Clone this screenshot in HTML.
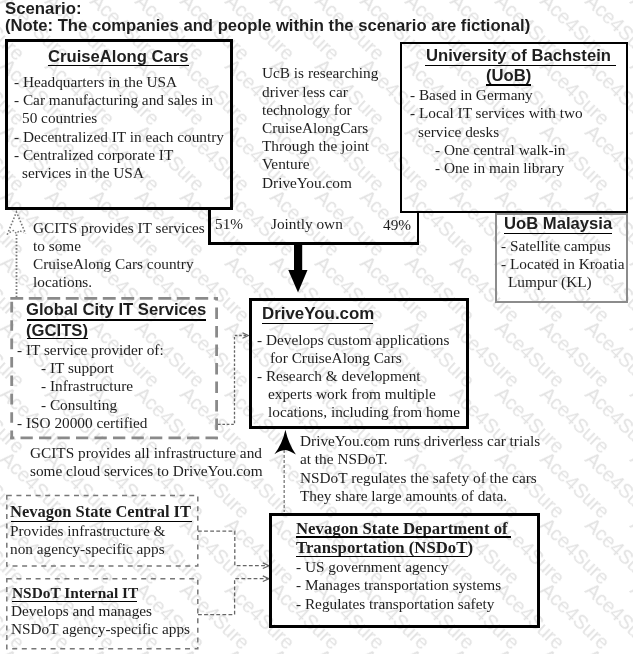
<!DOCTYPE html>
<html><head><meta charset="utf-8"><style>
html,body{margin:0;padding:0;background:#fff;}
body{width:633px;height:654px;position:relative;overflow:hidden;font-family:"Liberation Serif", serif;color:#1e1e1e;}
.t{position:absolute;white-space:pre;will-change:transform;}
.r{position:absolute;}
.wm span{position:absolute;will-change:transform;font-family:'Liberation Sans',sans-serif;font-size:19.6px;line-height:22px;color:#e2e2e2;white-space:pre;transform:translate(-50%,-50%) rotate(43.5deg);}
</style></head><body>
<div class="wm"><span style="left:-55.0px;top:-39.0px">Ace4Sure</span><span style="left:-10.0px;top:-39.0px">Ace4Sure</span><span style="left:35.0px;top:-39.0px">Ace4Sure</span><span style="left:80.0px;top:-39.0px">Ace4Sure</span><span style="left:125.0px;top:-39.0px">Ace4Sure</span><span style="left:170.0px;top:-39.0px">Ace4Sure</span><span style="left:215.0px;top:-39.0px">Ace4Sure</span><span style="left:260.0px;top:-39.0px">Ace4Sure</span><span style="left:305.0px;top:-39.0px">Ace4Sure</span><span style="left:350.0px;top:-39.0px">Ace4Sure</span><span style="left:395.0px;top:-39.0px">Ace4Sure</span><span style="left:440.0px;top:-39.0px">Ace4Sure</span><span style="left:485.0px;top:-39.0px">Ace4Sure</span><span style="left:530.0px;top:-39.0px">Ace4Sure</span><span style="left:575.0px;top:-39.0px">Ace4Sure</span><span style="left:620.0px;top:-39.0px">Ace4Sure</span><span style="left:665.0px;top:-39.0px">Ace4Sure</span><span style="left:-55.0px;top:26.5px">Ace4Sure</span><span style="left:-10.0px;top:26.5px">Ace4Sure</span><span style="left:35.0px;top:26.5px">Ace4Sure</span><span style="left:80.0px;top:26.5px">Ace4Sure</span><span style="left:125.0px;top:26.5px">Ace4Sure</span><span style="left:170.0px;top:26.5px">Ace4Sure</span><span style="left:215.0px;top:26.5px">Ace4Sure</span><span style="left:260.0px;top:26.5px">Ace4Sure</span><span style="left:305.0px;top:26.5px">Ace4Sure</span><span style="left:350.0px;top:26.5px">Ace4Sure</span><span style="left:395.0px;top:26.5px">Ace4Sure</span><span style="left:440.0px;top:26.5px">Ace4Sure</span><span style="left:485.0px;top:26.5px">Ace4Sure</span><span style="left:530.0px;top:26.5px">Ace4Sure</span><span style="left:575.0px;top:26.5px">Ace4Sure</span><span style="left:620.0px;top:26.5px">Ace4Sure</span><span style="left:665.0px;top:26.5px">Ace4Sure</span><span style="left:-55.0px;top:92.0px">Ace4Sure</span><span style="left:-10.0px;top:92.0px">Ace4Sure</span><span style="left:35.0px;top:92.0px">Ace4Sure</span><span style="left:80.0px;top:92.0px">Ace4Sure</span><span style="left:125.0px;top:92.0px">Ace4Sure</span><span style="left:170.0px;top:92.0px">Ace4Sure</span><span style="left:215.0px;top:92.0px">Ace4Sure</span><span style="left:260.0px;top:92.0px">Ace4Sure</span><span style="left:305.0px;top:92.0px">Ace4Sure</span><span style="left:350.0px;top:92.0px">Ace4Sure</span><span style="left:395.0px;top:92.0px">Ace4Sure</span><span style="left:440.0px;top:92.0px">Ace4Sure</span><span style="left:485.0px;top:92.0px">Ace4Sure</span><span style="left:530.0px;top:92.0px">Ace4Sure</span><span style="left:575.0px;top:92.0px">Ace4Sure</span><span style="left:620.0px;top:92.0px">Ace4Sure</span><span style="left:665.0px;top:92.0px">Ace4Sure</span><span style="left:-55.0px;top:157.5px">Ace4Sure</span><span style="left:-10.0px;top:157.5px">Ace4Sure</span><span style="left:35.0px;top:157.5px">Ace4Sure</span><span style="left:80.0px;top:157.5px">Ace4Sure</span><span style="left:125.0px;top:157.5px">Ace4Sure</span><span style="left:170.0px;top:157.5px">Ace4Sure</span><span style="left:215.0px;top:157.5px">Ace4Sure</span><span style="left:260.0px;top:157.5px">Ace4Sure</span><span style="left:305.0px;top:157.5px">Ace4Sure</span><span style="left:350.0px;top:157.5px">Ace4Sure</span><span style="left:395.0px;top:157.5px">Ace4Sure</span><span style="left:440.0px;top:157.5px">Ace4Sure</span><span style="left:485.0px;top:157.5px">Ace4Sure</span><span style="left:530.0px;top:157.5px">Ace4Sure</span><span style="left:575.0px;top:157.5px">Ace4Sure</span><span style="left:620.0px;top:157.5px">Ace4Sure</span><span style="left:665.0px;top:157.5px">Ace4Sure</span><span style="left:-55.0px;top:223.0px">Ace4Sure</span><span style="left:-10.0px;top:223.0px">Ace4Sure</span><span style="left:35.0px;top:223.0px">Ace4Sure</span><span style="left:80.0px;top:223.0px">Ace4Sure</span><span style="left:125.0px;top:223.0px">Ace4Sure</span><span style="left:170.0px;top:223.0px">Ace4Sure</span><span style="left:215.0px;top:223.0px">Ace4Sure</span><span style="left:260.0px;top:223.0px">Ace4Sure</span><span style="left:305.0px;top:223.0px">Ace4Sure</span><span style="left:350.0px;top:223.0px">Ace4Sure</span><span style="left:395.0px;top:223.0px">Ace4Sure</span><span style="left:440.0px;top:223.0px">Ace4Sure</span><span style="left:485.0px;top:223.0px">Ace4Sure</span><span style="left:530.0px;top:223.0px">Ace4Sure</span><span style="left:575.0px;top:223.0px">Ace4Sure</span><span style="left:620.0px;top:223.0px">Ace4Sure</span><span style="left:665.0px;top:223.0px">Ace4Sure</span><span style="left:-55.0px;top:288.5px">Ace4Sure</span><span style="left:-10.0px;top:288.5px">Ace4Sure</span><span style="left:35.0px;top:288.5px">Ace4Sure</span><span style="left:80.0px;top:288.5px">Ace4Sure</span><span style="left:125.0px;top:288.5px">Ace4Sure</span><span style="left:170.0px;top:288.5px">Ace4Sure</span><span style="left:215.0px;top:288.5px">Ace4Sure</span><span style="left:260.0px;top:288.5px">Ace4Sure</span><span style="left:305.0px;top:288.5px">Ace4Sure</span><span style="left:350.0px;top:288.5px">Ace4Sure</span><span style="left:395.0px;top:288.5px">Ace4Sure</span><span style="left:440.0px;top:288.5px">Ace4Sure</span><span style="left:485.0px;top:288.5px">Ace4Sure</span><span style="left:530.0px;top:288.5px">Ace4Sure</span><span style="left:575.0px;top:288.5px">Ace4Sure</span><span style="left:620.0px;top:288.5px">Ace4Sure</span><span style="left:665.0px;top:288.5px">Ace4Sure</span><span style="left:-55.0px;top:354.0px">Ace4Sure</span><span style="left:-10.0px;top:354.0px">Ace4Sure</span><span style="left:35.0px;top:354.0px">Ace4Sure</span><span style="left:80.0px;top:354.0px">Ace4Sure</span><span style="left:125.0px;top:354.0px">Ace4Sure</span><span style="left:170.0px;top:354.0px">Ace4Sure</span><span style="left:215.0px;top:354.0px">Ace4Sure</span><span style="left:260.0px;top:354.0px">Ace4Sure</span><span style="left:305.0px;top:354.0px">Ace4Sure</span><span style="left:350.0px;top:354.0px">Ace4Sure</span><span style="left:395.0px;top:354.0px">Ace4Sure</span><span style="left:440.0px;top:354.0px">Ace4Sure</span><span style="left:485.0px;top:354.0px">Ace4Sure</span><span style="left:530.0px;top:354.0px">Ace4Sure</span><span style="left:575.0px;top:354.0px">Ace4Sure</span><span style="left:620.0px;top:354.0px">Ace4Sure</span><span style="left:665.0px;top:354.0px">Ace4Sure</span><span style="left:-55.0px;top:419.5px">Ace4Sure</span><span style="left:-10.0px;top:419.5px">Ace4Sure</span><span style="left:35.0px;top:419.5px">Ace4Sure</span><span style="left:80.0px;top:419.5px">Ace4Sure</span><span style="left:125.0px;top:419.5px">Ace4Sure</span><span style="left:170.0px;top:419.5px">Ace4Sure</span><span style="left:215.0px;top:419.5px">Ace4Sure</span><span style="left:260.0px;top:419.5px">Ace4Sure</span><span style="left:305.0px;top:419.5px">Ace4Sure</span><span style="left:350.0px;top:419.5px">Ace4Sure</span><span style="left:395.0px;top:419.5px">Ace4Sure</span><span style="left:440.0px;top:419.5px">Ace4Sure</span><span style="left:485.0px;top:419.5px">Ace4Sure</span><span style="left:530.0px;top:419.5px">Ace4Sure</span><span style="left:575.0px;top:419.5px">Ace4Sure</span><span style="left:620.0px;top:419.5px">Ace4Sure</span><span style="left:665.0px;top:419.5px">Ace4Sure</span><span style="left:-55.0px;top:485.0px">Ace4Sure</span><span style="left:-10.0px;top:485.0px">Ace4Sure</span><span style="left:35.0px;top:485.0px">Ace4Sure</span><span style="left:80.0px;top:485.0px">Ace4Sure</span><span style="left:125.0px;top:485.0px">Ace4Sure</span><span style="left:170.0px;top:485.0px">Ace4Sure</span><span style="left:215.0px;top:485.0px">Ace4Sure</span><span style="left:260.0px;top:485.0px">Ace4Sure</span><span style="left:305.0px;top:485.0px">Ace4Sure</span><span style="left:350.0px;top:485.0px">Ace4Sure</span><span style="left:395.0px;top:485.0px">Ace4Sure</span><span style="left:440.0px;top:485.0px">Ace4Sure</span><span style="left:485.0px;top:485.0px">Ace4Sure</span><span style="left:530.0px;top:485.0px">Ace4Sure</span><span style="left:575.0px;top:485.0px">Ace4Sure</span><span style="left:620.0px;top:485.0px">Ace4Sure</span><span style="left:665.0px;top:485.0px">Ace4Sure</span><span style="left:-55.0px;top:550.5px">Ace4Sure</span><span style="left:-10.0px;top:550.5px">Ace4Sure</span><span style="left:35.0px;top:550.5px">Ace4Sure</span><span style="left:80.0px;top:550.5px">Ace4Sure</span><span style="left:125.0px;top:550.5px">Ace4Sure</span><span style="left:170.0px;top:550.5px">Ace4Sure</span><span style="left:215.0px;top:550.5px">Ace4Sure</span><span style="left:260.0px;top:550.5px">Ace4Sure</span><span style="left:305.0px;top:550.5px">Ace4Sure</span><span style="left:350.0px;top:550.5px">Ace4Sure</span><span style="left:395.0px;top:550.5px">Ace4Sure</span><span style="left:440.0px;top:550.5px">Ace4Sure</span><span style="left:485.0px;top:550.5px">Ace4Sure</span><span style="left:530.0px;top:550.5px">Ace4Sure</span><span style="left:575.0px;top:550.5px">Ace4Sure</span><span style="left:620.0px;top:550.5px">Ace4Sure</span><span style="left:665.0px;top:550.5px">Ace4Sure</span><span style="left:-55.0px;top:616.0px">Ace4Sure</span><span style="left:-10.0px;top:616.0px">Ace4Sure</span><span style="left:35.0px;top:616.0px">Ace4Sure</span><span style="left:80.0px;top:616.0px">Ace4Sure</span><span style="left:125.0px;top:616.0px">Ace4Sure</span><span style="left:170.0px;top:616.0px">Ace4Sure</span><span style="left:215.0px;top:616.0px">Ace4Sure</span><span style="left:260.0px;top:616.0px">Ace4Sure</span><span style="left:305.0px;top:616.0px">Ace4Sure</span><span style="left:350.0px;top:616.0px">Ace4Sure</span><span style="left:395.0px;top:616.0px">Ace4Sure</span><span style="left:440.0px;top:616.0px">Ace4Sure</span><span style="left:485.0px;top:616.0px">Ace4Sure</span><span style="left:530.0px;top:616.0px">Ace4Sure</span><span style="left:575.0px;top:616.0px">Ace4Sure</span><span style="left:620.0px;top:616.0px">Ace4Sure</span><span style="left:665.0px;top:616.0px">Ace4Sure</span><span style="left:-55.0px;top:681.5px">Ace4Sure</span><span style="left:-10.0px;top:681.5px">Ace4Sure</span><span style="left:35.0px;top:681.5px">Ace4Sure</span><span style="left:80.0px;top:681.5px">Ace4Sure</span><span style="left:125.0px;top:681.5px">Ace4Sure</span><span style="left:170.0px;top:681.5px">Ace4Sure</span><span style="left:215.0px;top:681.5px">Ace4Sure</span><span style="left:260.0px;top:681.5px">Ace4Sure</span><span style="left:305.0px;top:681.5px">Ace4Sure</span><span style="left:350.0px;top:681.5px">Ace4Sure</span><span style="left:395.0px;top:681.5px">Ace4Sure</span><span style="left:440.0px;top:681.5px">Ace4Sure</span><span style="left:485.0px;top:681.5px">Ace4Sure</span><span style="left:530.0px;top:681.5px">Ace4Sure</span><span style="left:575.0px;top:681.5px">Ace4Sure</span><span style="left:620.0px;top:681.5px">Ace4Sure</span><span style="left:665.0px;top:681.5px">Ace4Sure</span></div>
<div class="t" style="left:5.2px;top:-1.50px;font-size:16.8px;line-height:20px;font-family:'Liberation Sans', sans-serif;font-weight:bold;">Scenario:</div>
<div class="t" style="left:4.6px;top:15.90px;font-size:16.65px;line-height:20px;font-family:'Liberation Sans', sans-serif;font-weight:bold;">(Note: The companies and people within the scenario are fictional)</div>
<div class="r" style="left:5px;top:39px;width:228px;height:170.5px;border:3px solid #000;box-sizing:border-box"></div>
<div class="t" style="left:48.2px;top:46.80px;font-size:16.65px;line-height:20px;font-family:'Liberation Sans', sans-serif;font-weight:bold;">CruiseAlong Cars</div>
<div class="r" style="left:47.6px;top:64.5px;width:141.4px;height:1.7999999999999972px;background:#000"></div>
<div class="t" style="left:14.1px;top:71.90px;font-size:15.3px;line-height:20px;">- Headquarters in the USA</div>
<div class="t" style="left:14.1px;top:90.10px;font-size:15.3px;line-height:20px;">- Car manufacturing and sales in</div>
<div class="t" style="left:21.7px;top:108.30px;font-size:15.3px;line-height:20px;">50 countries</div>
<div class="t" style="left:14.1px;top:126.50px;font-size:15.3px;line-height:20px;">- Decentralized IT in each country</div>
<div class="t" style="left:14.1px;top:144.70px;font-size:15.3px;line-height:20px;">- Centralized corporate IT</div>
<div class="t" style="left:21.7px;top:162.90px;font-size:15.3px;line-height:20px;">services in the USA</div>
<div class="t" style="left:262.0px;top:63.30px;font-size:15.3px;line-height:20px;">UcB is researching</div>
<div class="t" style="left:262.0px;top:81.50px;font-size:15.3px;line-height:20px;">driver less car</div>
<div class="t" style="left:262.0px;top:99.70px;font-size:15.3px;line-height:20px;">technology for</div>
<div class="t" style="left:262.0px;top:117.90px;font-size:15.3px;line-height:20px;">CruiseAlongCars</div>
<div class="t" style="left:262.0px;top:136.10px;font-size:15.3px;line-height:20px;">Through the joint</div>
<div class="t" style="left:262.0px;top:154.30px;font-size:15.3px;line-height:20px;">Venture</div>
<div class="t" style="left:262.0px;top:172.50px;font-size:15.3px;line-height:20px;">DriveYou.com</div>
<div class="r" style="left:400px;top:42px;width:228px;height:171px;border:2.8px solid #000;box-sizing:border-box"></div>
<div class="t" style="left:426.4px;top:45.90px;font-size:16.65px;line-height:20px;font-family:'Liberation Sans', sans-serif;font-weight:bold;">University of Bachstein</div>
<div class="r" style="left:425px;top:64.6px;width:190.60000000000002px;height:1.8000000000000114px;background:#000"></div>
<div class="t" style="left:486px;top:66.40px;font-size:16.65px;line-height:20px;font-family:'Liberation Sans', sans-serif;font-weight:bold;">(UoB)</div>
<div class="r" style="left:486px;top:84.2px;width:45px;height:1.7999999999999972px;background:#000"></div>
<div class="t" style="left:409.5px;top:85.10px;font-size:15.3px;line-height:20px;">- Based in Germany</div>
<div class="t" style="left:409.5px;top:103.30px;font-size:15.3px;line-height:20px;">- Local IT services with two</div>
<div class="t" style="left:417.5px;top:121.50px;font-size:15.3px;line-height:20px;">service desks</div>
<div class="t" style="left:435.0px;top:139.70px;font-size:15.3px;line-height:20px;">- One central walk-in</div>
<div class="t" style="left:435.0px;top:157.90px;font-size:15.3px;line-height:20px;">- One in main library</div>
<div class="r" style="left:208px;top:209px;width:3px;height:35.5px;background:#000"></div>
<div class="r" style="left:208px;top:242px;width:211px;height:2.5px;background:#000"></div>
<div class="r" style="left:416.5px;top:212px;width:2.5px;height:32.5px;background:#000"></div>
<div class="t" style="left:215.2px;top:213.60px;font-size:15.3px;line-height:20px;">51%</div>
<div class="t" style="left:270.5px;top:214.40px;font-size:15.3px;line-height:20px;">Jointly own</div>
<div class="t" style="left:382.7px;top:214.60px;font-size:15.3px;line-height:20px;">49%</div>
<svg class="r" style="left:0;top:0" width="633" height="654"><rect x="294" y="244" width="8.2" height="27" fill="#000"/><polygon points="288.3,270 307.5,270 298,292.5" fill="#000"/></svg>
<div class="r" style="left:495px;top:213px;width:133px;height:89.5px;border:2px solid #8c8c8c;box-sizing:border-box"></div>
<div class="t" style="left:504.2px;top:214.10px;font-size:16.65px;line-height:20px;font-family:'Liberation Sans', sans-serif;font-weight:bold;">UoB Malaysia</div>
<div class="r" style="left:504px;top:232.6px;width:108px;height:1.8000000000000114px;background:#000"></div>
<div class="t" style="left:500.5px;top:235.70px;font-size:15.3px;line-height:20px;">- Satellite campus</div>
<div class="t" style="left:500.5px;top:254.05px;font-size:15.3px;line-height:20px;">- Located in Kroatia</div>
<div class="t" style="left:508.3px;top:272.40px;font-size:15.3px;line-height:20px;">Lumpur (KL)</div>
<div class="t" style="left:33.2px;top:217.60px;font-size:15.3px;line-height:20px;">GCITS provides IT services</div>
<div class="t" style="left:33.2px;top:235.60px;font-size:15.3px;line-height:20px;">to some</div>
<div class="t" style="left:33.2px;top:253.60px;font-size:15.3px;line-height:20px;">CruiseAlong Cars country</div>
<div class="t" style="left:33.2px;top:271.60px;font-size:15.3px;line-height:20px;">locations.</div>
<svg class="r" style="left:0;top:0" width="633" height="654"><line x1="16.5" y1="234.5" x2="16.5" y2="297" stroke="#777" stroke-width="1.8" stroke-dasharray="1.6 1.8"/><polyline points="7.2,234.7 16.45,212 25.5,233.5" fill="none" stroke="#777" stroke-width="1.6" stroke-dasharray="1.6 1.8"/><polyline points="9.5,232.5 13.5,230.5 16.5,233.5 19.5,230.5 23.5,232.5" fill="none" stroke="#777" stroke-width="1.4" stroke-dasharray="1.6 1.8"/></svg>
<svg class="r" style="left:0;top:0" width="633" height="654"><g stroke="#8a8a8a" stroke-width="2.8" fill="none"><line x1="10.3" y1="298.4" x2="218" y2="298.4" stroke-dasharray="12.9 5.6"/><line x1="216.6" y1="297" x2="216.6" y2="439.2" stroke-dasharray="11.5 7" stroke-dashoffset="8"/><line x1="11.7" y1="297" x2="11.7" y2="439.2" stroke-dasharray="10.6 7.8" stroke-dashoffset="13.6"/><line x1="10.3" y1="437.8" x2="218" y2="437.8" stroke-dasharray="12.3 6.2" stroke-dashoffset="8.3"/></g></svg>
<div class="t" style="left:26.4px;top:300.00px;font-size:16.65px;line-height:20px;font-family:'Liberation Sans', sans-serif;font-weight:bold;">Global City IT Services</div>
<div class="r" style="left:26.5px;top:318.9px;width:179.5px;height:1.8000000000000114px;background:#000"></div>
<div class="t" style="left:26.4px;top:320.50px;font-size:16.65px;line-height:20px;font-family:'Liberation Sans', sans-serif;font-weight:bold;">(GCITS)</div>
<div class="r" style="left:26.5px;top:337.6px;width:61.5px;height:1.7999999999999545px;background:#000"></div>
<div class="t" style="left:16.5px;top:339.60px;font-size:15.3px;line-height:20px;">- IT service provider of:</div>
<div class="t" style="left:40.8px;top:357.90px;font-size:15.3px;line-height:20px;">- IT support</div>
<div class="t" style="left:40.8px;top:376.20px;font-size:15.3px;line-height:20px;">- Infrastructure</div>
<div class="t" style="left:40.8px;top:394.50px;font-size:15.3px;line-height:20px;">- Consulting</div>
<div class="t" style="left:16.5px;top:412.80px;font-size:15.3px;line-height:20px;">- ISO 20000 certified</div>
<svg class="r" style="left:0;top:0" width="633" height="654"><polyline points="218,424.3 234.5,424.3 234.5,335.5 248,335.5" fill="none" stroke="#666" stroke-width="1.3" stroke-dasharray="2.6 1.8"/><polyline points="242.5,332.8 248.3,335.5 242.5,338.2" fill="none" stroke="#666" stroke-width="1.2"/></svg>
<div class="r" style="left:248.5px;top:298px;width:220.5px;height:130.8px;border:3px solid #000;box-sizing:border-box"></div>
<div class="t" style="left:262px;top:304.10px;font-size:16.9px;line-height:20px;font-family:'Liberation Sans', sans-serif;font-weight:bold;">DriveYou.com</div>
<div class="r" style="left:262px;top:322.5px;width:111px;height:1.8000000000000114px;background:#000"></div>
<div class="t" style="left:257.0px;top:329.60px;font-size:15.3px;line-height:20px;">- Develops custom applications</div>
<div class="t" style="left:269.7px;top:347.80px;font-size:15.3px;line-height:20px;">for CruiseAlong Cars</div>
<div class="t" style="left:257.0px;top:366.00px;font-size:15.3px;line-height:20px;">- Research &amp; development</div>
<div class="t" style="left:268.0px;top:384.20px;font-size:15.3px;line-height:20px;">experts work from multiple</div>
<div class="t" style="left:268.0px;top:402.40px;font-size:15.3px;line-height:20px;">locations, including from home</div>
<div class="t" style="left:30.0px;top:442.50px;font-size:15.3px;line-height:20px;">GCITS provides all infrastructure and</div>
<div class="t" style="left:30.0px;top:460.50px;font-size:15.3px;line-height:20px;">some cloud services to DriveYou.com</div>
<svg class="r" style="left:0;top:0" width="633" height="654"><line x1="284.2" y1="450" x2="284.2" y2="512" stroke="#8a8a8a" stroke-width="1.5" stroke-dasharray="3 2"/><path d="M285.4,429.8 Q288.6,444.2 295.9,454.6 Q289,450.2 284.6,450 Q280,450.4 274.4,454.2 Q282.2,444.2 285.4,429.8 Z" fill="#000"/></svg>
<div class="t" style="left:300.3px;top:431.30px;font-size:15.3px;line-height:20px;">DriveYou.com runs driverless car trials</div>
<div class="t" style="left:300.3px;top:449.00px;font-size:15.3px;line-height:20px;">at the NSDoT.</div>
<div class="t" style="left:300.3px;top:467.50px;font-size:15.3px;line-height:20px;">NSDoT regulates the safety of the cars</div>
<div class="t" style="left:300.3px;top:485.70px;font-size:15.3px;line-height:20px;">They share large amounts of data.</div>
<svg class="r" style="left:0;top:0" width="633" height="654"><rect x="6.8" y="495.6" width="191" height="70.3" fill="none" stroke="#777" stroke-width="1.5" stroke-dasharray="5 4.6"/><rect x="6.8" y="578.8" width="191" height="70" fill="none" stroke="#777" stroke-width="1.5" stroke-dasharray="5 4.6"/><polyline points="198,531.2 234.8,531.2 234.8,565.7 268,565.7" fill="none" stroke="#666" stroke-width="1.3" stroke-dasharray="3.8 2.3"/><polyline points="198,614.6 234.6,614.6 234.6,578.7 268,578.7" fill="none" stroke="#666" stroke-width="1.3" stroke-dasharray="3.8 2.3"/><polyline points="262.8,562.9 269,565.7 262.8,568.5" fill="none" stroke="#666" stroke-width="1.2"/><polyline points="262.8,575.9 269,578.7 262.8,581.5" fill="none" stroke="#666" stroke-width="1.2"/></svg>
<div class="t" style="left:10.1px;top:502.40px;font-size:16.5px;line-height:20px;font-weight:bold;">Nevagon State Central IT</div>
<div class="r" style="left:10.5px;top:520.6px;width:181.0px;height:1.7999999999999545px;background:#000"></div>
<div class="t" style="left:10.1px;top:521.10px;font-size:15.3px;line-height:20px;">Provides infrastructure &amp;</div>
<div class="t" style="left:10.1px;top:538.90px;font-size:15.3px;line-height:20px;">non agency-specific apps</div>
<div class="t" style="left:11.5px;top:583.10px;font-size:15.4px;line-height:20px;font-weight:bold;">NSDoT Internal IT</div>
<div class="r" style="left:12px;top:600.6px;width:125px;height:1.6999999999999318px;background:#000"></div>
<div class="t" style="left:11.1px;top:600.90px;font-size:15.3px;line-height:20px;">Develops and manages</div>
<div class="t" style="left:11.1px;top:618.90px;font-size:15.3px;line-height:20px;">NSDoT agency-specific apps</div>
<div class="r" style="left:269px;top:512.5px;width:271px;height:115.79999999999995px;border:3px solid #000;box-sizing:border-box"></div>
<div class="t" style="left:295.7px;top:518.50px;font-size:16.75px;line-height:20px;font-weight:bold;">Nevagon State Department of</div>
<div class="r" style="left:296px;top:536.4px;width:215px;height:1.6000000000000227px;background:#000"></div>
<div class="t" style="left:295.7px;top:537.60px;font-size:16.75px;line-height:20px;font-weight:bold;">Transportation (NSDoT)</div>
<div class="r" style="left:296px;top:555.6px;width:172px;height:1.6000000000000227px;background:#000"></div>
<div class="t" style="left:296.0px;top:556.70px;font-size:15.3px;line-height:20px;">- US government agency</div>
<div class="t" style="left:296.0px;top:575.10px;font-size:15.3px;line-height:20px;">- Manages transportation systems</div>
<div class="t" style="left:296.0px;top:593.50px;font-size:15.3px;line-height:20px;">- Regulates transportation safety</div>
</body></html>
